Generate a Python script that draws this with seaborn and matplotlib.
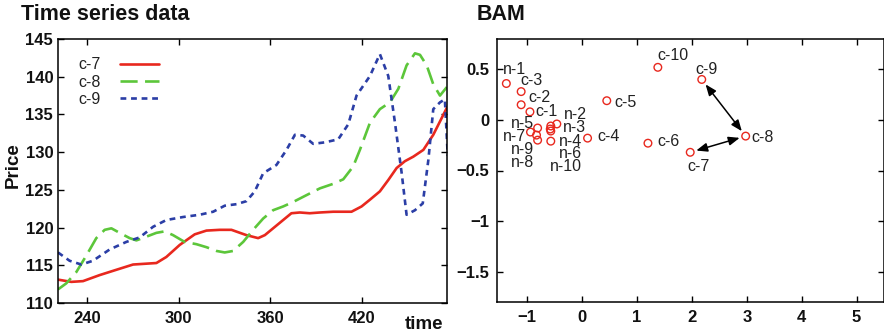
import numpy as np
import pandas as pd
import matplotlib
matplotlib.use("Agg")
import matplotlib.pyplot as plt
import seaborn as sns

# ---------------- time series (price vs time) ----------------
t_c7 = [221, 229.7, 237.4, 248.3, 259.2, 270.2, 285.5, 292, 300.8, 310.6, 318.3, 327,
        334.7, 344.5, 352.2, 356.6, 362, 368.6, 374, 379.5, 386, 392.7, 401.4, 408,
        413.4, 420, 425.5, 432, 437.5, 443, 448.4, 453.9, 460.5, 467, 476.2]
p_c7 = [113.1, 112.8, 112.9, 113.7, 114.4, 115.1, 115.3, 116.1, 117.7, 119.1, 119.6, 119.7,
        119.7, 119.0, 118.6, 119.0, 119.9, 121.0, 121.9, 122.0, 121.9, 122.0, 122.1, 122.1,
        122.1, 122.8, 123.7, 124.8, 126.3, 127.9, 128.8, 129.4, 130.3, 132.3, 136.0]

t_c8 = [221, 226.4, 233, 239.6, 246.1, 251.6, 256, 261.4, 268, 272.4, 279, 285.5, 291,
        296.4, 304, 311.7, 318.3, 324.9, 330.3, 335.8, 342.4, 348.9, 355.5, 362, 368.6,
        375.2, 383.9, 392.7, 401.4, 408, 414.5, 418.9, 425.5, 432, 438.6, 444.1, 449.5,
        455, 458.3, 462.7, 467, 471.4, 476.2]
p_c8 = [111.8, 112.6, 114.1, 116.3, 118.6, 119.7, 119.9, 119.3, 118.6, 118.3, 118.8, 119.3,
        119.5, 119.0, 118.1, 117.8, 117.4, 116.9, 116.7, 116.9, 118.1, 119.7, 121.2, 122.3,
        122.8, 123.4, 124.3, 125.2, 125.8, 126.4, 128.1, 130.3, 133.9, 135.7, 136.6, 138.4,
        141.5, 143.1, 142.9, 141.5, 139.0, 137.5, 138.7]

t_c9 = [221, 228.6, 236.3, 243.9, 254.9, 265.8, 274.6, 283.3, 292, 303, 313.9, 322.7,
        330.3, 338, 344.5, 350, 355.5, 364.2, 370.8, 376.3, 381.7, 388.3, 396, 404.7,
        411.3, 416.7, 425.5, 432, 437.5, 441.9, 446.3, 449.5, 455, 460.1, 463.8, 467,
        471.4, 474.6, 476.5]
p_c9 = [116.7, 115.6, 115.1, 115.6, 117.1, 118.1, 118.7, 120.1, 121.0, 121.4, 121.7, 122.1,
        122.9, 123.1, 123.5, 124.8, 127.2, 128.3, 130.3, 132.3, 132.2, 131.1, 131.3, 131.7,
        133.7, 137.5, 140.1, 143.0, 140.1, 133.9, 127.2, 121.7, 122.3, 123.2, 129.0, 135.7,
        136.6, 137.0, 129.5]

series_names = ["c-7", "c-8", "c-9"]
x_ticks_left = [240, 300, 360, 420]
y_ticks_left = [110, 115, 120, 125, 130, 135, 140, 145]

# ---------------- BAM embedding ----------------
bam_labels = ["n-1", "n-2", "n-3", "n-4", "n-5", "n-6", "n-7", "n-8", "n-9", "n-10",
              "c-1", "c-2", "c-3", "c-4", "c-5", "c-6", "c-7", "c-8", "c-9", "c-10"]
bam_x = [-1.38, -0.46, -0.57, -0.57, -0.81, -0.57, -0.94, -0.81, -0.83, -0.58,
         -0.95, -1.11, -1.11, 0.10, 0.45, 1.20, 1.97, 2.98, 2.18, 1.38]
bam_y = [0.36, -0.04, -0.06, -0.21, -0.08, -0.11, -0.12, -0.20, -0.15, -0.09,
         0.08, 0.15, 0.28, -0.18, 0.19, -0.23, -0.32, -0.16, 0.40, 0.52]
bam_links = [("c-9", "c-8"), ("c-8", "c-7")]
x_ticks_right = [-1, 0, 1, 2, 3, 4, 5]
y_ticks_right = [0.5, 0, -0.5, -1, -1.5]

# label placement: (dx, dy) in points from the marker, horizontal alignment
label_offsets = {
    "n-1": (-2.7, 10.1, "left"), "n-2": (4.8, 6.5, "left"), "n-3": (9.0, -1.4, "left"),
    "n-4": (6.0, 0.0, "left"), "n-5": (-2.3, 3.0, "right"), "n-6": (6.2, -16.5, "left"),
    "n-7": (-3.1, -3.3, "right"), "n-8": (-2.3, -15.9, "right"), "n-9": (-1.5, -10.7, "right"),
    "n-10": (0.0, -27.0, "left"),
    "c-1": (4.2, 0.5, "left"), "c-2": (5.5, 5.3, "left"), "c-3": (-0.5, 7.9, "left"),
    "c-4": (6.7, 0.9, "left"), "c-5": (5.5, -1.0, "left"), "c-6": (6.7, 1.2, "left"),
    "c-7": (-2.4, -10.1, "left"), "c-8": (3.8, -0.7, "left"), "c-9": (-4.3, 7.4, "left"),
    "c-10": (0.0, 8.4, "left"),
}

RED = "#e8281e"
GREEN = "#5cc63a"
BLUE = "#2b3ea6"

sns.set_theme(style="ticks")
plt.rcParams["font.family"] = ["Liberation Sans", "DejaVu Sans"]
plt.rcParams["axes.linewidth"] = 1.1
plt.rcParams["axes.edgecolor"] = "black"

fig = plt.figure(figsize=(8.84, 3.34), dpi=100)
ax1 = fig.add_axes([58 / 884, 1 - 303 / 334, 389 / 884, 264 / 334])
ax2 = fig.add_axes([497 / 884, 1 - 302 / 334, 387 / 884, 263 / 334])

ts = pd.concat([
    pd.DataFrame({"time": t_c7, "price": p_c7, "series": "c-7"}),
    pd.DataFrame({"time": t_c8, "price": p_c8, "series": "c-8"}),
    pd.DataFrame({"time": t_c9, "price": p_c9, "series": "c-9"}),
], ignore_index=True)

sns.lineplot(data=ts, x="time", y="price", hue="series", style="series",
             hue_order=series_names, style_order=series_names,
             palette={"c-7": RED, "c-8": GREEN, "c-9": BLUE},
             dashes={"c-7": "", "c-8": (6.5, 2.8), "c-9": (2.2, 1.8)},
             sort=False, estimator=None, linewidth=1.9, ax=ax1)

ax1.set_xlim(221, 476)
ax1.set_ylim(110, 145)
ax1.set_xticks(x_ticks_left)
ax1.set_yticks(y_ticks_left)
ax1.set_xlabel("")
ax1.set_ylabel("")
leg = ax1.legend(loc="upper left", bbox_to_anchor=(0.035, 0.955), frameon=False,
                 markerfirst=False, handlelength=2.5, handletextpad=1.2,
                 labelspacing=0.15, fontsize=11.5, borderaxespad=0)
for txt in leg.get_texts():
    txt.set_color("#222222")
ax1.text(0.942, -0.082, "time", transform=ax1.transAxes, ha="center", va="center",
         fontsize=13.5, fontweight="bold", color="#111111")
fig.text(13 / 884, 1 - 165 / 334, "Price", rotation=90, ha="center", va="center",
         fontsize=13.5, fontweight="bold", color="#111111")

bam = pd.DataFrame({"x": bam_x, "y": bam_y, "label": bam_labels})
sns.scatterplot(data=bam, x="x", y="y", marker="o", s=30, color=RED,
                facecolor="none", edgecolor=RED, linewidth=1.0, ax=ax2, zorder=3)

for lab, x, y in zip(bam_labels, bam_x, bam_y):
    dx, dy, ha = label_offsets[lab]
    ax2.annotate(lab, (x, y), xytext=(dx, dy), textcoords="offset points",
                 ha=ha, va="center", fontsize=11.5, color="#222222")

pos = {lab: (x, y) for lab, x, y in zip(bam_labels, bam_x, bam_y)}
for a, b in bam_links:
    ax2.annotate("", xy=pos[b], xytext=pos[a],
                 arrowprops=dict(arrowstyle="<|-|>,head_length=0.55,head_width=0.22",
                                 color="black", lw=1.1, shrinkA=4.5, shrinkB=4.5))

ax2.set_xlim(-1.55, 5.5)
ax2.set_ylim(-1.8, 0.8)
ax2.set_xticks(x_ticks_right)
ax2.set_yticks(y_ticks_right)
ax2.set_xticklabels([f"{v:g}".replace("-", "\u2212") for v in x_ticks_right])
ax2.set_yticklabels([f"{v:g}".replace("-", "\u2212") for v in y_ticks_right])
ax2.set_xlabel("")
ax2.set_ylabel("")

for ax, ypad in ((ax1, 3.5), (ax2, 5.5)):
    ax.tick_params(direction="in", top=True, right=True, length=4, width=1.0,
                   labelsize=12, colors="black", labelcolor="#111111")
    ax.tick_params(axis="y", pad=ypad)
    ax.tick_params(axis="x", pad=6)
    for lbl in ax.get_xticklabels() + ax.get_yticklabels():
        lbl.set_fontweight("bold")
    for sp in ax.spines.values():
        sp.set_visible(True)
        sp.set_color("black")

fig.text(21 / 884, 1 - 15 / 334, "Time series data", ha="left", va="center",
         fontsize=15.5, fontweight="bold", color="#111111")
fig.text(477 / 884, 1 - 15 / 334, "BAM", ha="left", va="center",
         fontsize=15.5, fontweight="bold", color="#111111")

fig.savefig("out.png", dpi=100)
